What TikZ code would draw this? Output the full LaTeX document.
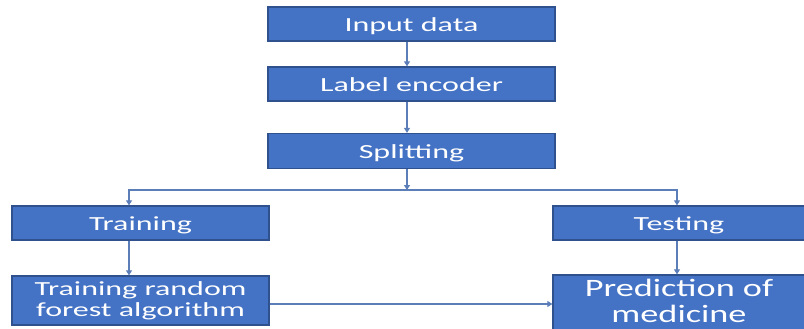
\documentclass[tikz,border=0pt]{standalone}
\usepackage{fontspec}
\setmainfont{Carlito}
\usetikzlibrary{arrows.meta}
\definecolor{boxblue}{HTML}{4472C4}
\definecolor{boxedge}{HTML}{2F528F}
\definecolor{linkblue}{HTML}{5B7DB8}
\newcommand{\wtxt}[2][0pt]{\raisebox{#1}[\height][\depth]{\scalebox{1.6}[1]{\fontsize{20}{21}\selectfont\begin{tabular}{@{}c@{}}#2\end{tabular}}}}
\newcommand{\btxt}[2][0pt]{\raisebox{#1}[\height][\depth]{\scalebox{1.45}[1]{\fontsize{25}{25.5}\selectfont\begin{tabular}{@{}c@{}}#2\end{tabular}}}}
\tikzset{
  flowbox/.style={draw=boxedge, line width=1.3pt, fill=boxblue, text=white, inner sep=0pt, anchor=center},
  arr/.style={draw=linkblue, line width=1.1pt, -{Triangle[width=6pt,length=5pt]}},
}
\begin{document}
\begin{tikzpicture}[x=1pt,y=-1pt]
\useasboundingbox (0,0) rectangle (804,329);
\clip (0,0) rectangle (804,329);
\node[flowbox, minimum width=287pt, minimum height=34pt] (input) at (411.5,24) {\wtxt[-3.5pt]{Input data}};
\node[flowbox, minimum width=287pt, minimum height=34pt] (label) at (411.5,84) {\wtxt[-3.5pt]{Label encoder}};
\node[flowbox, minimum width=287pt, minimum height=35pt] (split) at (411.5,151) {\wtxt[-3.5pt]{Splitting}};
\node[flowbox, minimum width=257pt, minimum height=34pt] (train) at (140.5,223) {\wtxt[-3.5pt]{Training}};
\node[flowbox, minimum width=252pt, minimum height=34pt] (test) at (679,223) {\wtxt[-3.5pt]{Testing}};
\node[flowbox, minimum width=257pt, minimum height=49pt] (trainrf) at (140.5,300.5) {\wtxt[-1.5pt]{Training random\\forest algorithm}};
\node[flowbox, minimum width=252pt, minimum height=56pt] (pred) at (679,303) {\btxt[-1.5pt]{Prediction of\\medicine}};
\coordinate (j) at (407,190);
\draw[arr] ([xshift=-4.5pt]input.south) -- ([xshift=-4.5pt]label.north);
\draw[arr] ([xshift=-4.5pt]label.south) -- ([xshift=-4.5pt]split.north);
\draw[arr] ([xshift=-4.5pt]split.south) -- (j);
\draw[arr] (j) -| ([xshift=-11.5pt]train.north);
\draw[arr] (j) -| ([xshift=-2pt]test.north);
\draw[arr] ([xshift=-11.5pt]train.south) -- ([xshift=-11.5pt]trainrf.north);
\draw[arr] ([xshift=-2pt]test.south) -- ([xshift=-2pt]pred.north);
\draw[arr] ([yshift=-3.5pt]trainrf.east) -- ([yshift=-3.5pt]trainrf.east -| pred.west);
\end{tikzpicture}
\end{document}
